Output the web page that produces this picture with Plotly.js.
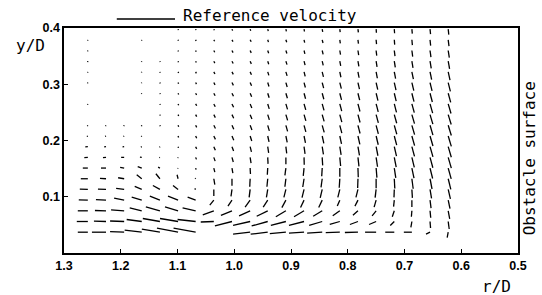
<!DOCTYPE html>
<html><head><meta charset="utf-8">
<script src="https://cdn.plot.ly/plotly-3.0.1.min.js"></script>
<style>html,body{margin:0;padding:0;background:#fff}</style>
</head><body><div id="chart" style="width:542px;height:295px"></div>
<script>
// grid positions
const rVals = [1.258,1.226,1.194,1.163,1.131,1.099,1.068,1.036,1.004,0.972,0.941,0.909,0.877,0.845,0.814,0.782,0.750,0.718,0.687,0.655,0.623];
const yVals = [0.398,0.379,0.360,0.341,0.322,0.303,0.284,0.265,0.246,0.227,0.208,0.189,0.170,0.151,0.132,0.113,0.094,0.075,0.056,0.037];
// radial velocity (positive = increasing r), one row per yVals entry
const U = [
 [null,null,null,null,null,-0.3,-0.3,-0.5,-0.6,-0.6,-0.5,-0.5,-0.4,-0.5,-0.4,-0.4,-0.3,-0.3,-0.4,-0.5,-0.6],
 [0.2,null,null,0.2,null,-0.3,-0.4,-0.8,-1,-1,-0.7,-0.8,-0.6,-0.8,-0.5,-0.5,-0.4,-0.4,-0.5,-0.6,-0.8],
 [0.2,null,null,null,null,-0.3,-0.5,-0.9,-1.1,-1.1,-0.9,-1,-0.8,-0.9,-0.7,-0.7,-0.6,-0.7,-0.8,-0.9,-1.1],
 [0.2,null,null,0.3,-0.3,-0.4,-0.6,-1,-1.2,-1.2,-1,-1.1,-1,-1,-0.9,-0.9,-0.9,-1,-1.1,-1.2,-1.4],
 [0.2,null,null,0.3,-0.3,-0.5,-0.7,-1.1,-1.3,-1.3,-1.1,-1.2,-1.1,-1.2,-1.1,-1.1,-1.2,-1.3,-1.5,-1.6,-1.8],
 [0.3,null,null,0.4,-0.3,-0.5,-0.8,-1.2,-1.4,-1.4,-1.2,-1.3,-1.3,-1.4,-1.5,-1.5,-1.6,-1.7,-1.9,-2,-2.2],
 [null,null,null,0.4,-0.3,-0.6,-0.9,-1.3,-1.5,-1.5,-1.4,-1.5,-1.5,-1.6,-1.7,-1.7,-1.8,-1.9,-2.1,-2.3,-2.5],
 [0.3,null,null,null,-0.3,-0.6,-1,-1.4,-1.6,-1.7,-1.5,-1.6,-1.7,-1.8,-1.9,-2,-2.1,-2.2,-2.4,-2.6,-2.8],
 [null,null,null,null,-0.3,-0.6,-1,-1.5,-1.7,-1.8,-1.6,-1.7,-1.8,-1.9,-2,-2.1,-2.2,-2.4,-2.6,-2.8,-3],
 [0.5,0.5,0.4,0.3,-0.3,-0.6,-1,-1.6,-1.8,-1.8,-1.6,-1.7,-1.8,-2,-2,-2.1,-2.2,-2.5,-2.7,-2.9,-3.1],
 [1,0.9,0.7,0.5,null,-0.5,-1,-1.6,-1.8,-1.6,-1.3,-1.3,-1.4,-1.6,-1.7,-1.9,-2.1,-2.4,-2.7,-2.9,-3.1],
 [2.5,1.8,1.6,0.9,0.4,-0.4,-1,-1.5,-1.6,-1.3,-0.9,-0.8,-1,-1.2,-1.3,-1.5,-1.8,-2.2,-2.6,-2.9,-3.1],
 [3.5,3,3,1.8,0.6,0.2,-0.8,-1.3,-1.3,-0.9,-0.3,0,-0.2,-0.5,-0.8,-1,-1.4,-1.9,-2.4,-2.8,-3.1],
 [5,5,4,4,1.8,0.4,-0.4,-1,-0.9,-0.3,0.4,1,0.8,0.5,0,-0.3,-0.8,-1.5,-2.1,-2.6,-3],
 [7,6,6,5,4,1,0.5,-1,0,0.4,0.8,1,1.3,1.2,0.6,0.3,0,-0.5,-1.3,-2,-2.6],
 [8,8,8,7,7,5,1,0,1,1,1.3,2,2,2,2,2,1,0.3,-0.5,-1.5,-2.2],
 [9,10,10,10,10,10,8,4,4,5,4.5,4,3.5,3.5,2.5,3,2,0.7,0,-1,-1.8],
 [10,11,13,12,14,13,13,11,11,11,11,10,10,9,7,5,4,2,0.5,-0.7,-1.5],
 [11,12,14,15,17,18,18,13,17,17,16,15,15,13,10,8,7,4,1,-0.5,-1],
 [10,14,14,17,18,21,22,null,null,17,17,16,15,15,14,13,11,9,8,4,1]
];
// vertical velocity (positive = up)
const V = [
 [null,null,null,null,null,-1,-1,-1.2,-1.5,-1.7,-2,-2.2,-2.4,-2.7,-3,-3.3,-3.7,-4.1,-4.5,-5,-5.5],
 [-0.9,null,null,-0.9,null,-1,-1.2,-1.4,-1.8,-2,-2.3,-2.5,-2.8,-3.2,-3.5,-3.9,-4.3,-4.8,-5.3,-5.8,-6.3],
 [-0.9,null,null,null,null,-1,-1.3,-1.7,-2.1,-2.4,-2.7,-3,-3.4,-3.8,-4.2,-4.6,-5.1,-5.6,-6.1,-6.6,-7.1],
 [-0.9,null,null,-0.7,-0.8,-1.1,-1.4,-1.9,-2.3,-2.7,-3.1,-3.5,-3.9,-4.3,-4.7,-5.2,-5.7,-6.2,-6.7,-7.2,-7.7],
 [-0.8,null,null,-0.7,-0.8,-1.1,-1.5,-2.1,-2.5,-3,-3.5,-4,-4.5,-5,-5.4,-5.9,-6.4,-6.9,-7.4,-7.9,-8.3],
 [-0.8,null,null,-0.6,-0.9,-1.2,-1.6,-2.3,-2.8,-3.3,-4,-4.5,-5,-5.5,-6,-6.5,-7,-7.5,-8,-8.4,-8.8],
 [null,null,null,-0.6,-0.9,-1.3,-1.7,-2.5,-3,-3.6,-4.5,-5,-5.5,-6,-6.6,-7,-7.5,-8,-8.4,-8.8,-9.2],
 [-0.8,null,null,null,-1,-1.4,-1.8,-2.8,-3.3,-4,-5,-5.5,-6,-6.5,-7.2,-7.6,-8,-8.4,-8.8,-9.2,-9.6],
 [null,null,null,null,-1,-1.4,-2,-3,-3.6,-4.3,-5.3,-5.8,-6.3,-6.8,-7.5,-7.9,-8.3,-8.7,-9.1,-9.5,-9.9],
 [-0.7,-0.7,-0.8,-0.9,-1,-1.5,-2.1,-3.2,-3.9,-4.6,-5.6,-6.1,-6.6,-7.1,-7.8,-8.2,-8.6,-9,-9.4,-9.8,-10.2],
 [-0.5,-0.4,-0.5,-0.6,null,-1.5,-2.2,-3.4,-4.2,-5,-5.9,-6.4,-6.9,-7.4,-8,-8.4,-8.8,-9.2,-9.6,-10,-10.4],
 [-0.2,-0.2,-0.2,-0.4,-0.6,-1.2,-2.2,-3.5,-4.4,-5.3,-6.2,-6.7,-7.2,-7.7,-8.3,-8.7,-9.1,-9.5,-9.8,-10.2,-10.6],
 [-0.2,-0.2,0,0.2,-0.4,-0.8,-2,-3.8,-4.7,-5.7,-6.5,-7,-7.5,-8,-8.6,-9,-9.4,-9.7,-10,-10.4,-10.8],
 [0,0,0.8,1.5,1,-0.5,-1.6,-4,-5,-6,-6.8,-7.3,-7.8,-8.3,-8.8,-9.2,-9.6,-9.9,-10.2,-10.5,-10.9],
 [0,0.3,1,4,5,4,0.6,-6,-7,-8,-8,-8,-8.3,-8.6,-9,-9.3,-9.6,-9.8,-10,-10.3,-10.6],
 [0.3,0.3,1,3,4,4,1,-6.5,-7,-8,-8,-8,-8.2,-8.4,-8,-8,-8.3,-8,-8.5,-9,-9.5],
 [0.3,0.5,2,3,4,4,3,-5,-6,-7,-7,-7.5,-7.5,-7.5,-6,-6,-7,-6.5,-7,-8,-8.5],
 [0,0.3,1,3,4,4,3,-4,-4.5,-5,-5.5,-6,-6,-5.5,-5,-4.5,-5,-6,-6,-7,-8],
 [0,0.3,0.5,2,3,3,2,-0.5,-4.5,-4,-4.5,-4,-4,-4,-3,-3,-3,-4,-6,-6.5,-7.5],
 [0,0,0.5,2,3,4,4,null,null,-2,-2,-1.5,-1,-1,-0.5,-0.3,0,0,0,-2,-5.5]
];
const xTickVals = [1.3,1.2,1.1,1.0,0.9,0.8,0.7,0.6,0.5];
const xTickText = ['1.3','1.2','1.1','1.0','0.9','0.8','0.7','0.6','0.5'];
const yTickVals = [0.1,0.2,0.3,0.4];
const yTickText = ['0.1','0.2','0.3','0.4'];
const refVelocity = 58;
const refStartR = 1.207;
const velScale = 0.00177; // data units per velocity unit

const xs = [], ys = [];
for (let i = 0; i < yVals.length; i++) {
  for (let c = 0; c < rVals.length; c++) {
    const u = U[i][c], v = V[i][c];
    if (u === null || v === null) continue;
    xs.push(rVals[c], rVals[c] + u * velScale, null);
    ys.push(yVals[i], yVals[i] + v * velScale, null);
  }
}
const monoFont = {family: 'DejaVu Sans Mono, monospace', size: 16, color: '#000'};
const tickFont = {family: 'Liberation Sans, Arial, sans-serif', size: 12.5, color: '#000', weight: 'bold'};
const axisCommon = {ticks: 'inside', ticklen: 4, tickwidth: 1, tickcolor: '#000', showline: true,
  linecolor: '#000', linewidth: 1.6, mirror: true, showgrid: false, zeroline: false, tickfont: tickFont};
const layout = {
  width: 542, height: 295,
  margin: {l: 64, r: 24, t: 28, b: 42},
  paper_bgcolor: '#fff', plot_bgcolor: '#fff', showlegend: false,
  xaxis: Object.assign({range: [1.3, 0.5], tickmode: 'array', tickvals: xTickVals, ticktext: xTickText}, axisCommon),
  yaxis: Object.assign({range: [0, 0.4], tickmode: 'array', tickvals: yTickVals, ticktext: yTickText}, axisCommon),
  shapes: [{type: 'line', xref: 'x', yref: 'paper', x0: refStartR, x1: refStartR - refVelocity * velScale,
    y0: 1.04, y1: 1.04, line: {color: '#000', width: 1.3}}],
  annotations: [
    {text: 'Reference velocity', xref: 'paper', yref: 'paper', x: 0.258, y: 1.057, xanchor: 'left', yanchor: 'middle', showarrow: false, font: monoFont},
    {text: 'y/D', xref: 'paper', yref: 'paper', x: -0.073, y: 0.92, xanchor: 'center', yanchor: 'middle', showarrow: false, font: monoFont},
    {text: 'r/D', xref: 'paper', yref: 'paper', x: 0.952, y: -0.147, xanchor: 'center', yanchor: 'middle', showarrow: false, font: monoFont},
    {text: 'Obstacle surface', xref: 'paper', yref: 'paper', x: 1.026, y: 0.42, xanchor: 'center', yanchor: 'middle', textangle: -90, showarrow: false, font: monoFont}
  ]
};
const trace = {type: 'scatter', mode: 'lines', x: xs, y: ys, line: {color: '#000', width: 1.3}, hoverinfo: 'skip', cliponaxis: false};
Plotly.newPlot('chart', [trace], layout, {displayModeBar: false, staticPlot: true});
</script></body></html>
